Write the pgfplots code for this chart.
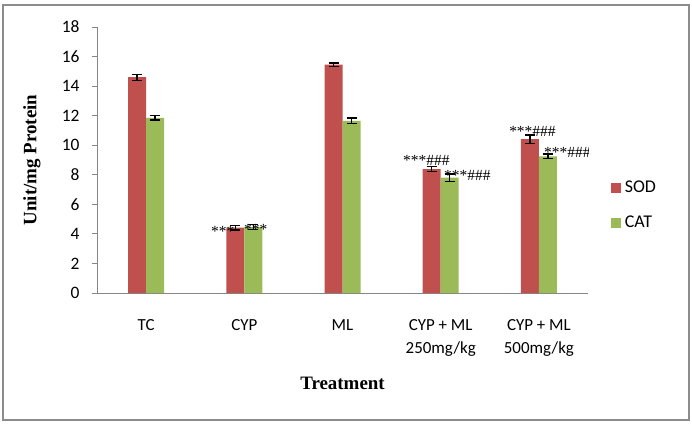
\documentclass[border=0pt]{standalone}
\usepackage{fontspec}
\setmainfont{Liberation Serif}
\newfontfamily\carlito{Carlito}
\usepackage{pgfplots}
\pgfplotsset{compat=1.18}
\usepackage{pgfplotstable}

\definecolor{sodred}{HTML}{C0504D}
\definecolor{catgreen}{HTML}{9BBB59}
\definecolor{axisgray}{HTML}{868686}
\definecolor{framegray}{HTML}{8C8C8C}

% group  value  error
\pgfplotstableread{
x  y      e
0  14.60  0.20
1  4.42   0.15
2  15.45  0.12
3  8.38   0.18
4  10.42  0.28
}\sod
\pgfplotstableread{
x  y      e
0  11.85  0.15
1  4.47   0.15
2  11.65  0.20
3  7.80   0.25
4  9.25   0.15
}\cat

\begin{document}
\begin{tikzpicture}[x=1bp,y=1bp]
% page extent and outer frame
\path[use as bounding box] (-97,-135) rectangle (595,293);
\draw[framegray,line width=1.5bp] (-94,-127) rectangle (592,288);
\begin{axis}[
  at={(0,0)}, anchor=south west,
  scale only axis, width=491bp, height=266bp,
  xmin=-0.5, xmax=4.5, ymin=0, ymax=18,
  ybar=0pt, bar width=18bp,
  axis x line*=bottom, axis y line*=left,
  axis line style={axisgray,line width=0.8bp},
  every tick/.style={axisgray,line width=0.8bp},
  tick align=outside,
  ytick={0,2,...,18},
  major tick length=5bp,
  xtick={0,1,2,3,4},
  x tick style={draw=none},
  extra x ticks={-0.5,0.5,1.5,2.5,3.5,4.5},
  extra x tick labels={},
  extra x tick style={tick style={draw=axisgray,line width=0.8bp}, major tick length=6bp},
  xticklabels={TC, CYP, ML, {CYP + ML\\250mg/kg}, {CYP + ML\\500mg/kg}},
  xticklabel style={align=center, font=\carlito\fontsize{17}{23}\selectfont, yshift=-18bp, anchor=north},
  yticklabel style={font=\carlito\fontsize{17.5}{17.5}\selectfont, xshift=-9bp},
  /pgf/number format/assume math mode=true,
  xlabel={\bfseries Treatment},
  xlabel style={font=\fontsize{19}{19}\selectfont, at={(axis description cs:0.5,0)}, anchor=center, yshift=-90bp},
  ylabel={\bfseries Unit/mg Protein},
  ylabel style={font=\fontsize{19}{19}\selectfont, at={(axis description cs:0,0.5)}, anchor=center, yshift=65bp},
  legend style={draw=none, fill=none, at={(rel axis cs:1.04,0.33)}, anchor=west,
    font=\carlito\fontsize{18}{18}\selectfont, row sep=18bp,
    legend cell align=left,
    nodes={inner xsep=4bp}},
  legend image code/.code={\fill[#1] (0bp,-5bp) rectangle (10bp,5bp);},
  error bars/error bar style={black,line width=1.3bp},
  error bars/error mark options={black,line width=1.3bp,mark size=5bp,rotate=90},
]
\addplot[fill=sodred, draw=none,
  error bars/.cd, y dir=both, y explicit]
  table[x=x, y=y, y error=e] {\sod};
\addplot[fill=catgreen, draw=none,
  error bars/.cd, y dir=both, y explicit]
  table[x=x, y=y, y error=e] {\cat};
\legend{SOD, CAT}

% significance marks
\begin{scope}[every node/.style={font=\fontsize{15.5}{15.5}\selectfont, inner sep=0pt}]
\node[anchor=base west] at (axis cs:0.661,3.85) {***};
\node[anchor=base west] at (axis cs:0.997,3.98) {***};
\node[anchor=base west] at (axis cs:2.616,8.66) {***\#\#\#};
\node[anchor=base west] at (axis cs:3.034,7.58) {***\#\#\#};
\node[anchor=base west] at (axis cs:3.696,10.62) {***\#\#\#};
\node[anchor=base west] at (axis cs:4.052,9.20) {***\#\#\#};
\end{scope}
\end{axis}
\end{tikzpicture}
\end{document}
